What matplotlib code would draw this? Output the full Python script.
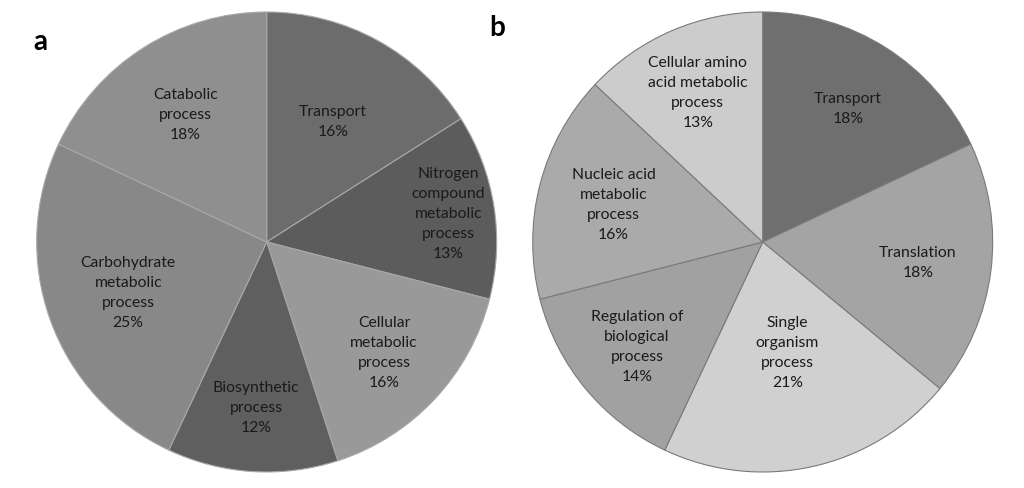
import matplotlib
matplotlib.use("Agg")
import matplotlib.pyplot as plt
import numpy as np

plt.rcParams['font.family'] = ['Lato', 'DejaVu Sans']

# panel a
labels_a = ['Transport', 'Nitrogen\ncompound\nmetabolic\nprocess', 'Cellular\nmetabolic\nprocess',
            'Biosynthetic\nprocess', 'Carbohydrate\nmetabolic\nprocess', 'Catabolic\nprocess']
values_a = [16, 13, 16, 12, 25, 18]
colors_a = ['#6c6c6c', '#5c5c5c', '#999999', '#5f5f5f', '#888888', '#8f8f8f']
dist_a = [0.60, 0.80, 0.70, 0.72, 0.64, 0.66]

# panel b
labels_b = ['Transport', 'Translation', 'Single\norganism\nprocess', 'Regulation of\nbiological\nprocess',
            'Nucleic acid\nmetabolic\nprocess', 'Cellular amino\nacid metabolic\nprocess']
values_b = [18, 18, 21, 14, 16, 13]
colors_b = ['#6f6f6f', '#a4a4a4', '#d0d0d0', '#a1a1a1', '#aaaaaa', '#cccccc']
dist_b = [0.69, 0.68, 0.49, 0.71, 0.67, 0.71]

W, H = 1024, 489
fig = plt.figure(figsize=(W / 100, H / 100), dpi=100)


def draw_pie(cx, cy, r, values, labels, colors, dists, edge):
    ax = fig.add_axes([(cx - r) / W, (H - cy - r) / H, 2 * r / W, 2 * r / H])
    wedges, _ = ax.pie(values, colors=colors, startangle=90, counterclock=False,
                       wedgeprops=dict(edgecolor=edge, linewidth=0.8))
    for w, lab, d in zip(wedges, labels, dists):
        ang = np.deg2rad((w.theta1 + w.theta2) / 2)
        pct = int(round(abs(w.theta2 - w.theta1) / 3.6))
        ax.text(d * np.cos(ang), d * np.sin(ang), lab + '\n' + str(pct) + '%',
                ha='center', va='center', fontsize=11.3, color='#1a1a1a', linespacing=1.55)
    ax.set_xlim(-1, 1)
    ax.set_ylim(-1, 1)
    ax.axis('off')
    return ax


draw_pie(266.7, 243, 230, values_a, labels_a, colors_a, dist_a, '#a8a8a8')
draw_pie(762.7, 243, 230, values_b, labels_b, colors_b, dist_b, '#7a7a7a')

fig.text(40 / W, 1 - 42 / H, 'a', fontsize=20, fontweight='bold', ha='center', va='center')
fig.text(497 / W, 1 - 28 / H, 'b', fontsize=20, fontweight='bold', ha='center', va='center')

fig.savefig('out.png', dpi=100, facecolor='white')
